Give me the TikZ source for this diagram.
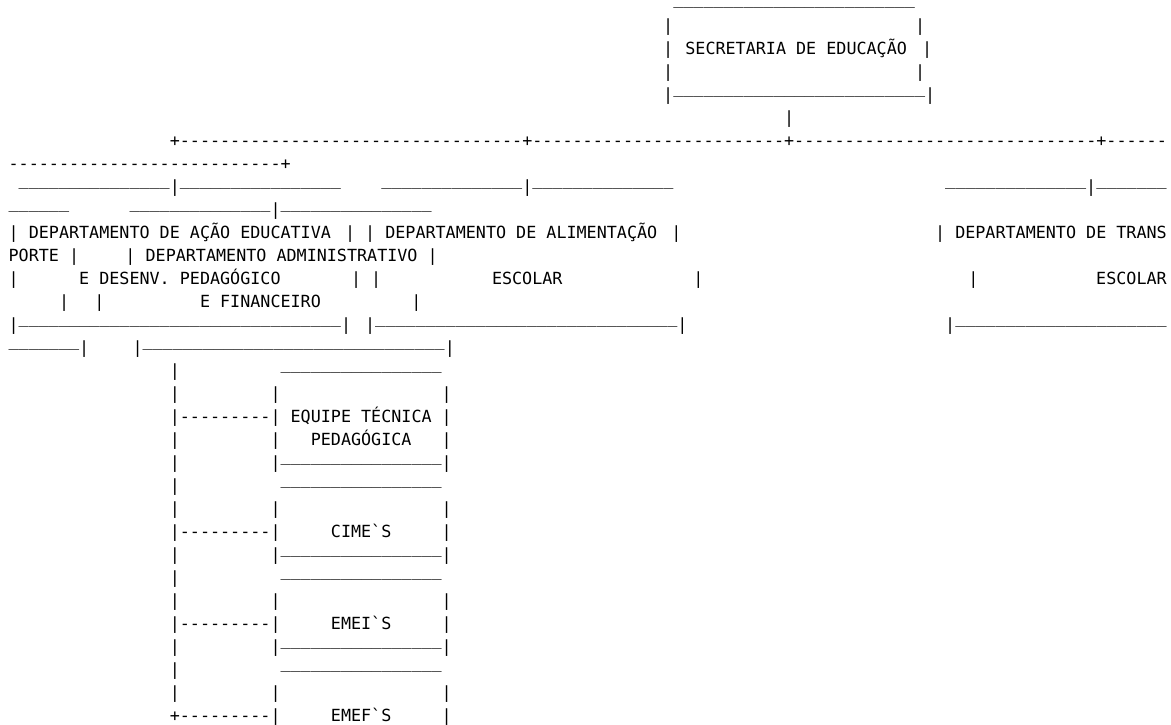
\documentclass[tikz,border=0pt]{standalone}
\usepackage{fontspec}
\setmonofont{DejaVu Sans Mono}
\ExplSyntaxOn
\NewDocumentCommand\chrun{mm}{\prg_replicate:nn{#1}{#2}}
\ExplSyntaxOff
% runs of underscores sit higher in the reference
\newcommand\usc[1]{\raisebox{7pt}{\chrun{#1}{\_}}}
% one text cell: name, line, column, text
\newcommand\colw{10.07}
\newcommand\lineh{23}
\newcommand\xleft{8.47}
\newcommand\ybase{8.1}
\newcommand\cell[4]{\node[cell] (#1) at ({\xleft+\colw*#3},{\ybase+\lineh*#2}) {#4};}

\begin{document}
\begin{tikzpicture}[x=1pt,y=-1pt]

%
% Styles
%
\tikzstyle{cell} = [anchor=base west,inner sep=0pt,font=\ttfamily\fontsize{16.73}{20}\selectfont]

\useasboundingbox (0,0) rectangle (1171,725);

% secretaria
\cell{r0}{0}{66}{\raisebox{4pt}{\chrun{24}{\_}}}
\cell{r1}{1}{65}{|\chrun{24}{~}|}
\cell{r2a}{2}{65}{|}
\cell{r2b}{2}{67.2}{SECRETARIA~DE~EDUCAÇÃO}
\cell{r2c}{2}{90.7}{|}
\cell{r3}{3}{65}{|\chrun{24}{~}|}
\cell{r4}{4}{65}{|\usc{25}|}
\cell{r5}{5}{77}{|}

% branch line
\cell{r6}{6}{16}{+\chrun{34}{-}+\chrun{25}{-}+\chrun{30}{-}+\chrun{6}{-}}
\cell{r7}{7}{0}{\chrun{27}{-}+}

% departamentos
\cell{r8a}{8}{1}{\usc{15}|\usc{16}}
\cell{r8b}{8}{37}{\usc{14}|\usc{14}}
\cell{r8c}{8}{93}{\usc{14}|\usc{7}}
\cell{r9a}{9}{0}{\usc{6}}
\cell{r9b}{9}{12}{\usc{14}|\usc{15}}
\cell{r10a}{10}{0}{|~DEPARTAMENTO~DE~AÇÃO~EDUCATIVA}
\cell{r10b}{10}{33.4}{|~|~DEPARTAMENTO~DE~ALIMENTAÇÃO}
\cell{r10c}{10}{65.8}{|}
\cell{r10d}{10}{92}{|~DEPARTAMENTO~DE~TRANS}
\cell{r11a}{11}{0}{PORTE~|}
\cell{r11b}{11}{11.6}{|~DEPARTAMENTO~ADMINISTRATIVO~|}
\cell{r12a}{12}{0}{|\chrun{6}{~}E~DESENV.~PEDAGÓGICO}
\cell{r12b}{12}{34}{|~|}
\cell{r12c}{12}{48}{ESCOLAR}
\cell{r12d}{12}{68}{|}
\cell{r12e}{12}{95.3}{|}
\cell{r12f}{12}{108}{ESCOLAR}
\cell{r13a}{13}{5}{|}
\cell{r13b}{13}{8.5}{|}
\cell{r13c}{13}{19}{E~FINANCEIRO}
\cell{r13d}{13}{40}{|}
\cell{r14a}{14}{0}{|\usc{32}|}
\cell{r14b}{14}{35.4}{|\usc{30}|}
\cell{r14c}{14}{93}{|\usc{21}}
\cell{r15a}{15}{0}{\usc{7}|}
\cell{r15b}{15}{12.3}{|\usc{30}|}

% equipe tecnica
\cell{r16}{16}{16}{|\chrun{10}{~}\usc{16}}
\cell{r17}{17}{16}{|\chrun{9}{~}|\chrun{16}{~}|}
\cell{r18}{18}{16}{|\chrun{9}{-}|~EQUIPE~TÉCNICA~|}
\cell{r19}{19}{16}{|\chrun{9}{~}|\chrun{3}{~}PEDAGÓGICA\chrun{3}{~}|}
\cell{r20}{20}{16}{|\chrun{9}{~}|\usc{16}|}

% cimes
\cell{r21}{21}{16}{|\chrun{10}{~}\usc{16}}
\cell{r22}{22}{16}{|\chrun{9}{~}|\chrun{16}{~}|}
\cell{r23}{23}{16}{|\chrun{9}{-}|\chrun{5}{~}CIME`S\chrun{5}{~}|}
\cell{r24}{24}{16}{|\chrun{9}{~}|\usc{16}|}

% emeis
\cell{r25}{25}{16}{|\chrun{10}{~}\usc{16}}
\cell{r26}{26}{16}{|\chrun{9}{~}|\chrun{16}{~}|}
\cell{r27}{27}{16}{|\chrun{9}{-}|\chrun{5}{~}EMEI`S\chrun{5}{~}|}
\cell{r28}{28}{16}{|\chrun{9}{~}|\usc{16}|}

% emefs
\cell{r29}{29}{16}{|\chrun{10}{~}\usc{16}}
\cell{r30}{30}{16}{|\chrun{9}{~}|\chrun{16}{~}|}
\cell{r31}{31}{16}{+\chrun{9}{-}|\chrun{5}{~}EMEF`S\chrun{5}{~}|}
\cell{r32}{32}{26}{|\chrun{16}{~}|}

\end{tikzpicture}
\end{document}
